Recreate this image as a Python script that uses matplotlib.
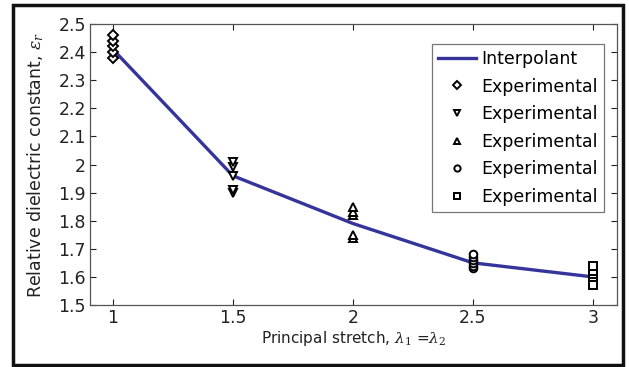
import matplotlib
matplotlib.use("Agg")
import matplotlib.pyplot as plt
from matplotlib.patches import Rectangle

plt.rcParams['font.family'] = ['DejaVu Sans']
plt.rcParams['mathtext.fontset'] = 'dejavuserif'

stretch = [1.0, 1.5, 2.0, 2.5, 3.0]
interpolant = [2.41, 1.96, 1.79, 1.65, 1.60]

exp_diamond = [2.38, 2.40, 2.42, 2.44, 2.46]
exp_tri_down = [1.90, 1.91, 1.96, 1.99, 2.01]
exp_tri_up = [1.74, 1.75, 1.82, 1.83, 1.85]
exp_circle = [1.63, 1.64, 1.65, 1.66, 1.67, 1.68]
exp_square = [1.57, 1.60, 1.61, 1.62, 1.64]

xticks = [1, 1.5, 2, 2.5, 3]
xticklabels = ['1', '1.5', '2', '2.5', '3']
yticks = [1.5, 1.6, 1.7, 1.8, 1.9, 2.0, 2.1, 2.2, 2.3, 2.4, 2.5]
yticklabels = ['1.5', '1.6', '1.7', '1.8', '1.9', '2', '2.1', '2.2', '2.3', '2.4', '2.5']

fig = plt.figure(figsize=(6.29, 3.67), dpi=100)
ax = fig.add_axes([90/629, 1 - 305/367, (617-90)/629, (305-24)/367])

ax.plot(stretch, interpolant, color='#34349a', lw=2.4, label='Interpolant', zorder=2)
mk = dict(linestyle='none', mfc='white', mec='black', mew=1.4, ms=6, label='Experimental', zorder=3)
ax.plot([stretch[0]] * len(exp_diamond), exp_diamond, marker='D', **{**mk, 'ms': 5.5})
ax.plot([stretch[1]] * len(exp_tri_down), exp_tri_down, marker='v', **mk)
ax.plot([stretch[2]] * len(exp_tri_up), exp_tri_up, marker='^', **mk)
ax.plot([stretch[3]] * len(exp_circle), exp_circle, marker='o', **{**mk, 'ms': 5.5})
ax.plot([stretch[4]] * len(exp_square), exp_square, marker='s', **{**mk, 'ms': 5.5})

ax.set_xlim(0.905, 3.1)
ax.set_ylim(1.5, 2.5)
ax.set_xticks(xticks)
ax.set_xticklabels(xticklabels)
ax.set_yticks(yticks)
ax.set_yticklabels(yticklabels)
ax.tick_params(direction='in', top=True, right=True, length=4, width=0.8,
               labelsize=12.5, colors='#222222', pad=3)
for s in ax.spines.values():
    s.set_color('#555555')
    s.set_linewidth(0.9)

ax.set_xlabel(r'Principal stretch, $\lambda_1$ =$\lambda_2$', fontsize=11, labelpad=1, color='#222222')
ax.set_ylabel(r'Relative dielectric constant, $\varepsilon_r$', fontsize=12.5, labelpad=9, color='#222222')

leg = ax.legend(loc='upper right', bbox_to_anchor=(0.975, 0.929), fontsize=12.5, frameon=True,
                fancybox=False, edgecolor='#555555', handlelength=2.2, handletextpad=0.3,
                labelspacing=0.55, borderpad=0.35, borderaxespad=0, numpoints=1)
leg.get_frame().set_linewidth(0.9)
for h in leg.legend_handles[1:]:
    h.set_markersize(4.5)

fig.patches.append(Rectangle((13/629, 1 - 365/367), (623-13)/629, (365-5)/367,
                             transform=fig.transFigure, fill=False, edgecolor='#111111',
                             lw=2.5, zorder=10))

fig.savefig('out.png', dpi=100)
